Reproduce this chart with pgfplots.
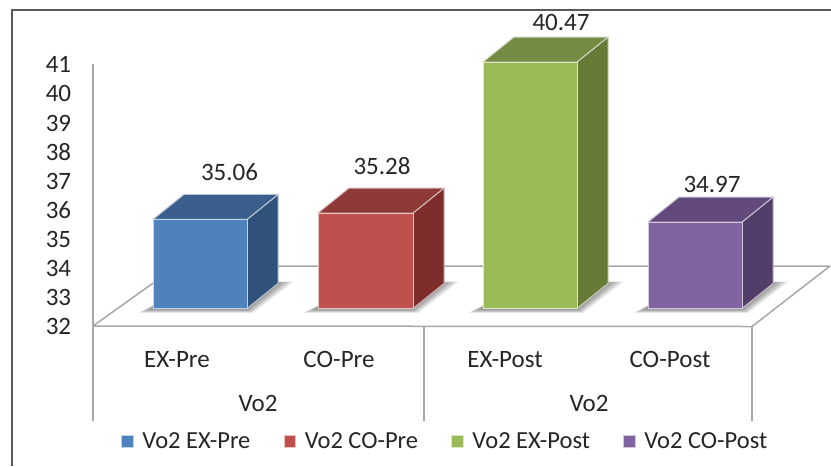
\documentclass[border=0pt]{standalone}
\usepackage{fontspec}
\setmainfont{Carlito}
\usepackage{pgfplots}
\pgfplotsset{compat=1.18}
\definecolor{txt}{HTML}{262626}
\definecolor{gridc}{HTML}{A8A8A8}
\definecolor{blueF}{HTML}{4F81BD}\definecolor{blueT}{HTML}{3B5F8C}\definecolor{blueS}{HTML}{30527A}
\definecolor{redF}{HTML}{C0504D}\definecolor{redT}{HTML}{8E3A38}\definecolor{redS}{HTML}{7D2E2C}
\definecolor{greenF}{HTML}{9BBB59}\definecolor{greenT}{HTML}{748C43}\definecolor{greenS}{HTML}{667B37}
\definecolor{purpF}{HTML}{8064A2}\definecolor{purpT}{HTML}{624B7C}\definecolor{purpS}{HTML}{533E69}
\newcommand{\lab}{\fontsize{15}{17}\selectfont\color{txt}}
\newcommand{\leglab}{\fontsize{14.7}{16}\selectfont\color{txt}}
\begin{document}
\begin{tikzpicture}
\path[use as bounding box,fill=white] (0,0) rectangle (498.6pt,279.6pt);

% outer frame, floor and category separators, in a top-down 831 x 466 grid
\begin{scope}[x=0.6pt,y=-0.6pt,shift={(0,279.6pt)}]
  \draw[color=black!65,line width=0.9pt] (12,466) -- (12,10) -- (831,10);
  \draw[gridc,line width=0.9pt,line join=round]
     (93,326) -- (177,266) -- (830,266) -- (752,326.5) -- cycle;
  \foreach \x in {93,424,752} \draw[gridc,line width=0.9pt] (\x,326) -- (\x,421);
  \node[font=\lab] at (258,403) {Vo2};
  \node[font=\lab] at (589,403) {Vo2};
\end{scope}

% value axis and lower-level category labels
\begin{axis}[
  at={(55.8pt,84pt)},anchor=south west,scale only axis,
  width=395.4pt,height=157.2pt,
  xmin=93,xmax=752,ymin=32,ymax=41,
  axis x line=none,axis y line=left,
  axis line style={-,gridc,line width=0.9pt},
  ytick={32,33,34,35,36,37,38,39,40,41},
  major tick length=0pt,
  /pgf/number format/assume math mode=true,
  yticklabel style={font=\lab,xshift=-9.6pt,yshift=-0.5pt},
  clip=false,
]
\node[font=\lab] at (axis cs:177,30.84) {EX-Pre};
\node[font=\lab] at (axis cs:339,30.84) {CO-Pre};
\node[font=\lab] at (axis cs:505,30.84) {EX-Post};
\node[font=\lab] at (axis cs:670,30.84) {CO-Post};
\end{axis}

% soft shadows cast on the floor
\begin{scope}[x=0.6pt,y=-0.6pt,shift={(0,279.6pt)}]
  \foreach \x in {153,318,483,648}{
    \foreach \i in {0,1,2,3,4,5}{
      \fill[black,opacity=0.075]
        ({\x-15+2*\i},{313-0.6*\i}) -- ({\x+100-\i},{313-0.6*\i})
        -- ({\x+141-2.6*\i},{281.5+0.2*\i}) -- ({\x+120},{281.5+0.2*\i})
        -- ({\x+10},300) -- cycle;
    }
  }
\end{scope}

% bars: the axis spans the whole sheet, x in sheet units, y in Vo2 units
\begin{axis}[
  at={(0,-0.3pt)},anchor=south west,scale only axis,
  width=498.6pt,height=279.6pt,
  xmin=0,xmax=831,ymin=26.570,ymax=42.584,
  hide axis,clip=false,
  legend columns=4,
  legend style={draw=none,fill=none,at={(0.5367,0.0540)},anchor=center,
    font=\leglab,inner sep=0pt,
    /tikz/every odd column/.style={column sep=3pt},
    /tikz/every even column/.style={column sep=18pt},
    cells={anchor=west}},
  legend image code/.code={\fill[#1] (0pt,-3.4pt) rectangle (7pt,3.6pt);},
]
% EX-Pre
\addplot[forget plot,fill=blueS,draw=blueS!35!white,line width=0.6pt,line join=round]
  coordinates {(247,32)(278,32.859)(278,35.919)(247,35.06)} -- cycle;
\addplot[forget plot,fill=blueT,draw=blueT!35!white,line width=0.6pt,line join=round]
  coordinates {(153,35.06)(184,35.919)(278,35.919)(247,35.06)} -- cycle;
\addplot[fill=blueF,draw=blueF!35!white,line width=0.6pt]
  coordinates {(153,32)(153,35.06)(247,35.06)(247,32)} -- cycle;
\addlegendentry{Vo2 EX-Pre}
% CO-Pre
\addplot[forget plot,fill=redS,draw=redS!35!white,line width=0.6pt,line join=round]
  coordinates {(413,32)(444,32.859)(444,36.139)(413,35.28)} -- cycle;
\addplot[forget plot,fill=redT,draw=redT!35!white,line width=0.6pt,line join=round]
  coordinates {(318,35.28)(349,36.139)(444,36.139)(413,35.28)} -- cycle;
\addplot[fill=redF,draw=redF!35!white,line width=0.6pt]
  coordinates {(318,32)(318,35.28)(413,35.28)(413,32)} -- cycle;
\addlegendentry{Vo2 CO-Pre}
% EX-Post
\addplot[forget plot,fill=greenS,draw=greenS!35!white,line width=0.6pt,line join=round]
  coordinates {(577,32)(608,32.859)(608,41.329)(577,40.47)} -- cycle;
\addplot[forget plot,fill=greenT,draw=greenT!35!white,line width=0.6pt,line join=round]
  coordinates {(483,40.47)(514,41.329)(608,41.329)(577,40.47)} -- cycle;
\addplot[fill=greenF,draw=greenF!35!white,line width=0.6pt]
  coordinates {(483,32)(483,40.47)(577,40.47)(577,32)} -- cycle;
\addlegendentry{Vo2 EX-Post}
% CO-Post
\addplot[forget plot,fill=purpS,draw=purpS!35!white,line width=0.6pt,line join=round]
  coordinates {(742,32)(773,32.859)(773,35.829)(742,34.97)} -- cycle;
\addplot[forget plot,fill=purpT,draw=purpT!35!white,line width=0.6pt,line join=round]
  coordinates {(648,34.97)(679,35.829)(773,35.829)(742,34.97)} -- cycle;
\addplot[fill=purpF,draw=purpF!35!white,line width=0.6pt]
  coordinates {(648,32)(648,34.97)(742,34.97)(742,32)} -- cycle;
\addlegendentry{Vo2 CO-Post}
% value labels
\node[font=\lab] at (axis cs:229.5,36.674) {35.06};
\node[font=\lab] at (axis cs:382,36.880) {35.28};
\node[font=\lab] at (axis cs:561,41.828) {40.47};
\node[font=\lab] at (axis cs:712,36.261) {34.97};
\end{axis}
\end{tikzpicture}
\end{document}
